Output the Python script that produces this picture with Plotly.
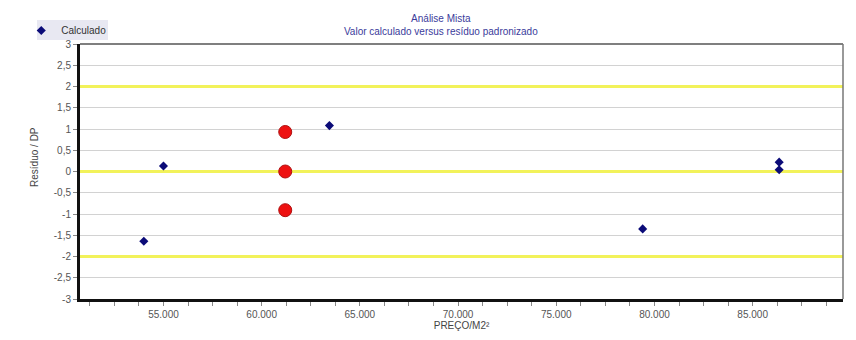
import plotly.graph_objects as go

# Data
x_calc = [54000, 55000, 63450, 79400, 86350, 86350]
y_calc = [-1.64, 0.13, 1.08, -1.35, 0.22, 0.04]
x_sel = [61200, 61200, 61200]
y_sel = [0.93, 0.0, -0.91]
ref_lines = [2, 0, -2]

x_range = [50750, 89600]
x_ticks = [55000, 60000, 65000, 70000, 75000, 80000, 85000]
x_ticklabels = ["55.000", "60.000", "65.000", "70.000", "75.000", "80.000", "85.000"]
y_ticks = [3, 2.5, 2, 1.5, 1, 0.5, 0, -0.5, -1, -1.5, -2, -2.5, -3]
y_ticklabels = ["3", "2,5", "2", "1,5", "1", "0,5", "0", "-0,5", "-1", "-1,5", "-2", "-2,5", "-3"]

FONT = "Liberation Sans, Arial, sans-serif"

fig = go.Figure()

# yellow reference lines (drawn first, under markers)
line_x, line_y = [], []
for yv in ref_lines:
    line_x += [x_range[0], x_range[1], None]
    line_y += [yv, yv, None]
fig.add_trace(go.Scatter(
    x=line_x, y=line_y, mode="lines", showlegend=False, hoverinfo="skip",
    line=dict(color="#f2f25a", width=3),
))

fig.add_trace(go.Scatter(
    x=x_calc, y=y_calc, mode="markers", name="Calculado",
    marker=dict(symbol="diamond", size=7, color="#0b0b78"),
))
fig.add_trace(go.Scatter(
    x=x_sel, y=y_sel, mode="markers", name="Selecionado", showlegend=False,
    marker=dict(symbol="circle", size=13, color="#ee1111",
                line=dict(color="#b01010", width=1)),
))

# top and right border (gray)
fig.add_shape(type="line", xref="paper", yref="paper", x0=0, x1=1, y0=1, y1=1,
              line=dict(color="#555555", width=1.5), layer="above")
fig.add_shape(type="line", xref="paper", yref="paper", x0=1, x1=1, y0=0, y1=1,
              line=dict(color="#777777", width=1.5), layer="above")
# legend background box
fig.add_shape(type="rect", xref="paper", yref="paper",
              x0=-0.0564, x1=0.0367, y0=1.0157, y1=1.094,
              fillcolor="#e8e8f2", line=dict(width=0), layer="below")

fig.add_annotation(text="Resíduo / DP", textangle=-90, xref="paper", yref="paper",
                   x=-0.059, y=0.557, xanchor="center", yanchor="middle", showarrow=False,
                   font=dict(family=FONT, size=10, color="#444444"))

fig.update_layout(
    width=856, height=340,
    margin=dict(l=80, r=13, t=44, b=41, autoexpand=False),
    paper_bgcolor="white", plot_bgcolor="white",
    font=dict(family=FONT, size=10, color="#555555"),
    title=dict(text="Análise Mista<br>Valor calculado versus resíduo padronizado",
               x=0.515, xanchor="center", y=1 - 22 / 340, yanchor="middle",
               font=dict(family=FONT, size=10, color="#3b3b9b")),
    legend=dict(x=-0.077, y=1.11, xanchor="left", yanchor="top",
                bgcolor="rgba(0,0,0,0)", font=dict(family=FONT, size=10, color="#333333"),
                itemsizing="trace", borderwidth=0,
                tracegroupgap=0, itemwidth=30),
    showlegend=True,
)

fig.update_xaxes(
    range=x_range, tickvals=x_ticks, ticktext=x_ticklabels,
    showgrid=False, zeroline=False,
    showline=True, linecolor="#111111", linewidth=3,
    ticks="outside", ticklen=4, tickcolor="#888888",
    minor=dict(dtick=1250, tick0=50000, ticks="outside", ticklen=4, tickcolor="#888888"),
    tickfont=dict(size=10, color="#555555"),
    title=dict(text="PREÇO/M2²", standoff=2, font=dict(size=10, color="#444444")),
)
fig.update_yaxes(
    range=[-3, 3], tickvals=y_ticks, ticktext=y_ticklabels,
    showgrid=True, gridcolor="#d2d2d2", gridwidth=1, zeroline=False,
    showline=True, linecolor="#111111", linewidth=3,
    ticks="outside", ticklen=4, tickcolor="#888888",
    tickfont=dict(size=10, color="#555555"),
)

fig.write_html("out.html", config={"displayModeBar": False},
               post_script="document.body.style.margin='0';document.body.style.overflow='hidden';")
